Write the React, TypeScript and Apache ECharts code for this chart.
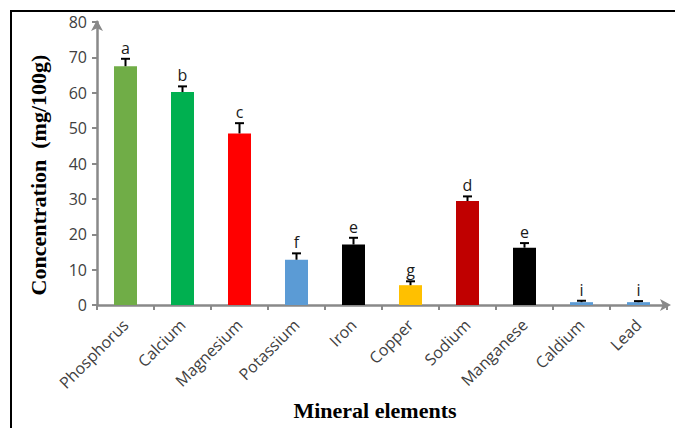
import React, { useEffect, useRef } from "react";
import * as echarts from "echarts";

const categories = ["Phosphorus", "Calcium", "Magnesium", "Potassium", "Iron", "Copper", "Sodium", "Manganese", "Caldium", "Lead"];
const values = [67.5, 60.2, 48.5, 12.8, 17.1, 5.6, 29.4, 16.2, 0.8, 0.8];
const errors = [2.1, 1.6, 2.9, 1.8, 1.9, 1.1, 1.3, 1.3, 0.4, 0.3];
const letters = ["a", "b", "c", "f", "e", "g", "d", "e", "i", "i"];
const colors = ["#70AD47", "#00B050", "#FF0000", "#5B9BD5", "#000000", "#FFC000", "#C00000", "#000000", "#5B9BD5", "#5B9BD5"];
const yTicks = { min: 0, max: 80, interval: 10 };

export default function App() {
  const ref = useRef<HTMLDivElement>(null);
  useEffect(() => {
    if (!ref.current) return;
    const chart = echarts.init(ref.current, null, { renderer: "svg" });
    const axisGray = "#898989";
    chart.setOption({
      animation: false,
      backgroundColor: "#ffffff",
      grid: { left: 97, right: 8, top: 22, bottom: 123, containLabel: false },
      graphic: [
        {
          type: "rect",
          shape: { x: 11, y: 11, width: 700, height: 500 },
          style: { fill: "none", stroke: "#000", lineWidth: 2 },
          z: 100,
        },
        {
          type: "text",
          x: 38,
          y: 175,
          rotation: Math.PI / 2,
          style: {
            text: "Concentration  (mg/100g)",
            font: "bold 22px 'Liberation Serif', 'Times New Roman', serif",
            fill: "#000",
            align: "center",
            verticalAlign: "middle",
          },
        },
        {
          type: "text",
          x: 375,
          y: 410,
          style: {
            text: "Mineral elements",
            font: "bold 22px 'Liberation Serif', 'Times New Roman', serif",
            fill: "#000",
            align: "center",
            verticalAlign: "middle",
          },
        },
      ],
      xAxis: {
        type: "category",
        data: categories,
        boundaryGap: true,
        axisLine: {
          show: true,
          lineStyle: { color: axisGray, width: 2.5 },
          symbol: ["none", "arrow"],
          symbolSize: [9, 11],
          symbolOffset: [0, 4],
        },
        axisTick: { show: true, length: 5, lineStyle: { color: axisGray, width: 2 } },
        axisLabel: {
          rotate: 45,
          margin: 17,
          color: "#404040",
          fontSize: 16,
          fontFamily: "'Open Sans', sans-serif",
          interval: 0,
        },
        splitLine: { show: false },
      },
      yAxis: {
        type: "value",
        min: yTicks.min,
        max: yTicks.max,
        interval: yTicks.interval,
        axisLine: {
          show: true,
          lineStyle: { color: axisGray, width: 2.5 },
          symbol: ["none", "arrow"],
          symbolSize: [9, 11],
          symbolOffset: [0, 2],
        },
        axisTick: { show: true, length: 5, lineStyle: { color: axisGray, width: 2 } },
        axisLabel: {
          margin: 10,
          color: "#404040",
          fontSize: 16,
          fontFamily: "'Open Sans', sans-serif",
        },
        splitLine: { show: false },
      },
      series: [
        {
          type: "bar",
          barWidth: 23,
          data: values.map((v, i) => ({ value: v, itemStyle: { color: colors[i] } })),
          z: 2,
        },
        {
          type: "custom",
          z: 3,
          data: values.map((v, i) => [i, v, v + errors[i]]),
          renderItem: (params: any, api: any) => {
            const base = api.coord([api.value(0), api.value(1)]);
            const top = api.coord([api.value(0), api.value(2)]);
            const half = 4.5;
            return {
              type: "group",
              children: [
                {
                  type: "line",
                  shape: { x1: base[0], y1: base[1], x2: top[0], y2: top[1] },
                  style: { stroke: "#000", lineWidth: 2 },
                },
                {
                  type: "line",
                  shape: { x1: top[0] - half, y1: top[1], x2: top[0] + half, y2: top[1] },
                  style: { stroke: "#000", lineWidth: 2 },
                },
                {
                  type: "text",
                  x: top[0],
                  y: top[1] - 3,
                  style: {
                    text: letters[params.dataIndex],
                    font: "16px 'Open Sans', sans-serif",
                    fill: "#1a1a1a",
                    align: "center",
                    verticalAlign: "bottom",
                  },
                },
              ],
            };
          },
        },
      ],
    });
    return () => chart.dispose();
  }, []);
  return (
    <div
      ref={ref}
      style={{ position: "fixed", left: 0, top: 0, width: 675, height: 428 }}
    />
  );
}
